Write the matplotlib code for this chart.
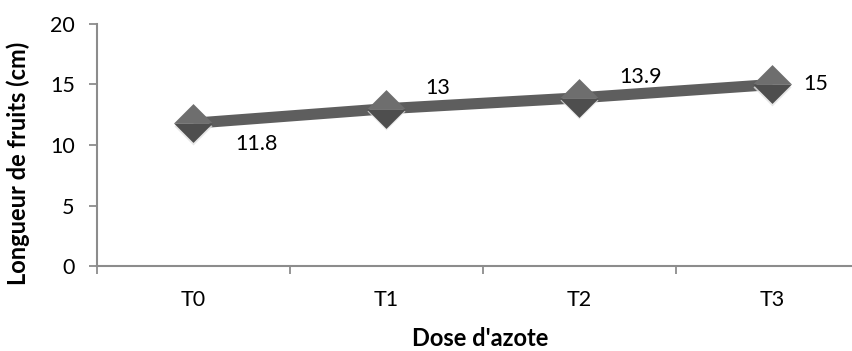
import matplotlib.pyplot as plt

categories = ["T0", "T1", "T2", "T3"]
longueur = [11.8, 13, 13.9, 15]
yticks = [0, 5, 10, 15, 20]

# label offsets in points (dx, dy) for each value
label_offsets = [(45, -15), (37, 15), (44, 15), (31, 0)]

plt.rcParams['font.family'] = ['Lato', 'DejaVu Sans']

fig = plt.figure(figsize=(8.53, 3.51), dpi=100)
ax = fig.add_axes([97 / 853, 85 / 351, 772 / 853, 242 / 351])

x = list(range(len(categories)))
gris = "#8c8c8c"

# thick line
ax.plot(x, longueur, color="#5e5e5e", lw=8, solid_capstyle="butt", zorder=2)

# diamond markers: faint shadow, then two shaded halves
top_half = [(-1, 0), (0, 1), (1, 0), (-1, 0)]
bottom_half = [(-1, 0), (0, -1), (1, 0), (-1, 0)]
ms = 28
for i, v in enumerate(longueur):
    ax.plot(x[i], v - 0.2, marker="D", ms=ms / 1.414, color="#e2e2e2",
            mec="none", alpha=0.8, zorder=3)
    ax.plot(x[i], v, marker=top_half, ms=ms, color="#6e6e6e", mec="none", zorder=4)
    ax.plot(x[i], v, marker=bottom_half, ms=ms, color="#4e4e4e", mec="none", zorder=4)
    dx, dy = label_offsets[i]
    ax.annotate(f"{v:g}", (x[i], v), xytext=(dx, dy), textcoords="offset points",
                ha="center", va="center", fontsize=15.5, color="black", zorder=5)

ax.set_xlim(-0.5, len(categories) - 0.5)
ax.set_ylim(0, 20)
ax.set_yticks(yticks)
ax.set_xticks(x)
ax.set_xticklabels(categories)
ax.set_xticks([i - 0.5 for i in range(len(categories) + 1)], minor=True)

ax.tick_params(axis="x", which="major", length=0, pad=17, labelsize=15.5)
ax.tick_params(axis="x", which="minor", length=6, width=1.3, color=gris, direction="out")
ax.tick_params(axis="y", length=6, width=1.3, color=gris, pad=10, labelsize=15.5)

for side in ["top", "right"]:
    ax.spines[side].set_visible(False)
for side in ["left", "bottom"]:
    ax.spines[side].set_color(gris)
    ax.spines[side].set_linewidth(1.5)
ax.spines["bottom"].set_clip_on(False)

ax.set_xlabel("Dose d'azote", fontsize=17, fontweight="bold")
ax.set_ylabel("Longueur de fruits (cm)", fontsize=17, fontweight="bold")
ax.xaxis.set_label_coords(0.496, -0.25)
ax.yaxis.set_label_coords(-0.087, 0.426)

fig.savefig("out.png", dpi=100)
